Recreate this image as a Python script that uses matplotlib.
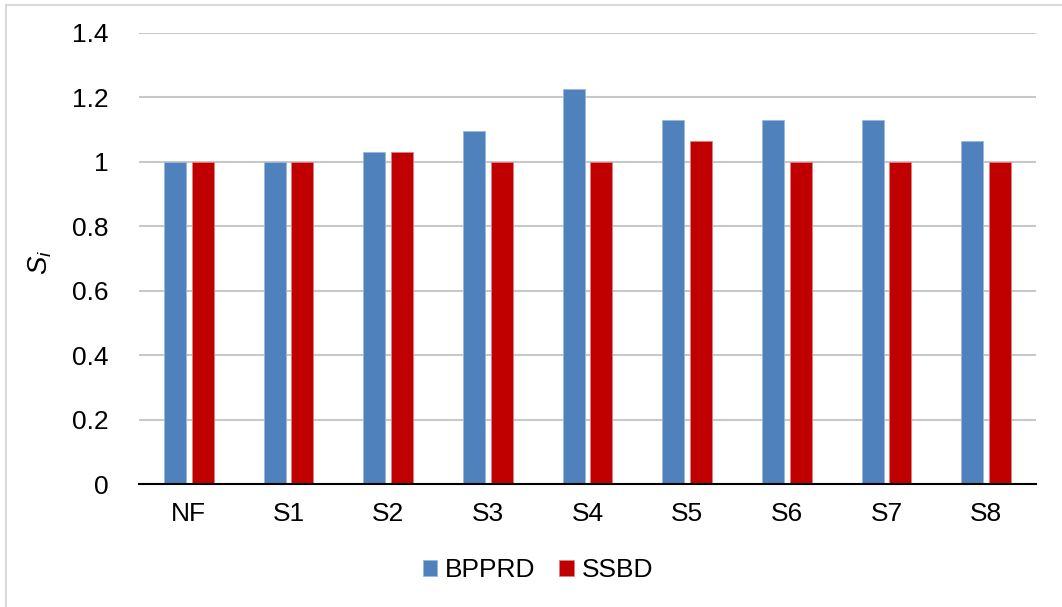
import matplotlib
matplotlib.use("Agg")
import matplotlib.pyplot as plt
import numpy as np
from matplotlib.patches import Rectangle

plt.rcParams['font.family'] = ['Liberation Sans', 'DejaVu Sans']
plt.rcParams['mathtext.fontset'] = 'custom'
plt.rcParams['mathtext.rm'] = 'Liberation Sans'
plt.rcParams['mathtext.it'] = 'Liberation Sans:italic'

categories = ['NF', 'S1', 'S2', 'S3', 'S4', 'S5', 'S6', 'S7', 'S8']
bpprd = [1.0, 1.0, 1.032, 1.097, 1.226, 1.129, 1.129, 1.129, 1.065]
ssbd = [1.0, 1.0, 1.032, 1.0, 1.0, 1.065, 1.0, 1.0, 1.0]
y_ticks = [0, 0.2, 0.4, 0.6, 0.8, 1, 1.2, 1.4]
y_tick_labels = ['0', '0.2', '0.4', '0.6', '0.8', '1', '1.2', '1.4']

blue = '#4F81BD'
red = '#C00000'

W, H = 1062, 607
fig = plt.figure(figsize=(W / 100, H / 100), dpi=100)
ax = fig.add_axes([139 / W, 1 - 484 / H, (1036 - 139) / W, (484 - 33) / H])

x = np.arange(len(categories))
bw = 0.22
ax.bar(x - 0.14, bpprd, bw, color=blue, edgecolor='#9BB7DA', linewidth=0.6,
       label='BPPRD', zorder=3)
ax.bar(x + 0.14, ssbd, bw, color=red, edgecolor='#E08080', linewidth=0.6,
       label='SSBD', zorder=3)

ax.set_xlim(-0.5, len(categories) - 0.5)
ax.set_ylim(0, 1.4)
ax.set_yticks(y_ticks)
ax.set_yticklabels(y_tick_labels)
ax.set_xticks(x)
ax.set_xticklabels(categories)
ax.tick_params(axis='both', length=0, labelsize=19, colors='black')
ax.tick_params(axis='y', pad=22)
ax.tick_params(axis='x', pad=13)

ax.yaxis.grid(True, color='#C8C8C8', linewidth=1.5, zorder=0)
ax.set_axisbelow(True)
for side in ['left', 'right', 'top']:
    ax.spines[side].set_visible(False)
ax.spines['bottom'].set_color('black')
ax.spines['bottom'].set_linewidth(1.5)
ax.spines['bottom'].set_zorder(4)

fig.text(40 / W, 1 - 262 / H, r'$\it{S_i}$', rotation=90, fontsize=20,
         ha='center', va='center')

leg = fig.legend(loc='center', bbox_to_anchor=(538 / W, 1 - 570 / H), ncol=2,
                 frameon=False, fontsize=19, handlelength=0.55, handleheight=0.55,
                 handletextpad=0.3, columnspacing=0.9)

# light outer frame around the chart
fig.patches.append(Rectangle((6 / W, -0.05), 1.1, 1 - 4.5 / H + 0.05,
                             transform=fig.transFigure, fill=False,
                             edgecolor='#D9D9D9', linewidth=1.5))

fig.savefig('out.png', dpi=100, facecolor='white')
